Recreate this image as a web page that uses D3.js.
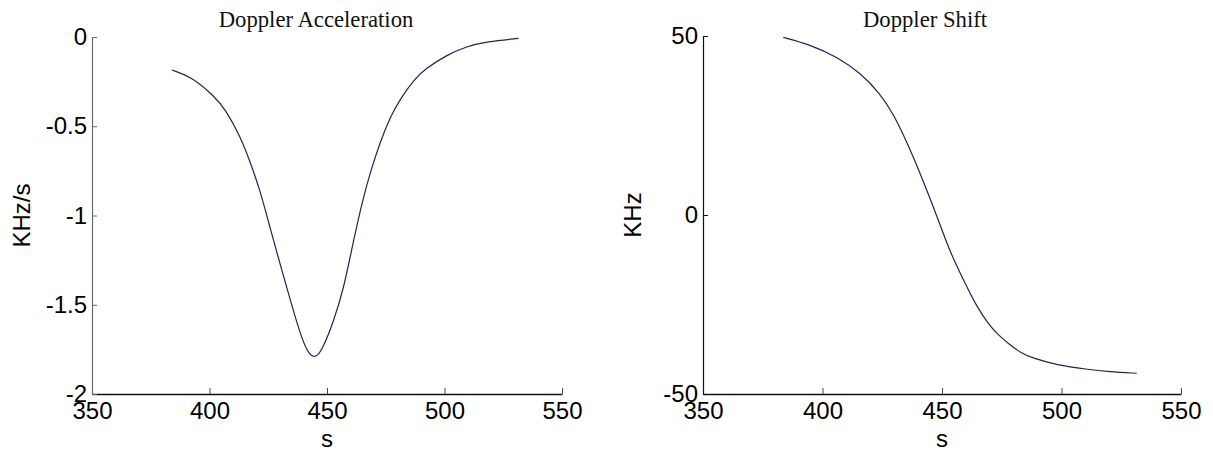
<!DOCTYPE html>
<html>
<head>
<meta charset="utf-8">
<script src="https://cdn.jsdelivr.net/npm/d3@7"></script>
<style>
  html, body { margin: 0; padding: 0; background: #fff; }
  svg { display: block; }
  .tick text { font-family: "Liberation Sans", Arial, sans-serif; font-size: 24px; fill: #000; }
  .title { font-family: "Liberation Serif", "Times New Roman", serif; font-size: 22.7px; fill: #111; }
  .axis-label { font-family: "Liberation Sans", Arial, sans-serif; font-size: 24px; fill: #000; }
</style>
</head>
<body>
<svg id="chart" width="1213" height="453"></svg>
<script>
// Time axis (seconds) shared by both plots
const xTicks = [350, 400, 450, 500, 550];

// Doppler acceleration (KHz/s) against time
const accelTime = [384, 392, 402, 407, 413, 417, 421.5, 426, 430, 434, 438.5, 441.5, 444, 446, 448,
  452.5, 457, 461, 465.5, 468.5, 472.5, 477, 481, 487, 492, 501, 509, 518, 531.5];
const accelValue = [-0.185, -0.22, -0.33, -0.41, -0.556, -0.689, -0.857, -1.08, -1.27, -1.455,
  -1.66, -1.76, -1.795, -1.785, -1.75, -1.605, -1.417, -1.156, -0.895, -0.755, -0.592, -0.446, -0.35,
  -0.24, -0.176, -0.101, -0.054, -0.026, -0.008];
const accelTicks = [0, -0.5, -1, -1.5, -2];

// Doppler shift (KHz) against time
const shiftTime = [383.6, 395, 406, 416, 424, 429.5, 435, 442, 448, 453, 459, 464.5, 469.5,
  473, 478.5, 483, 488, 498, 510.5, 520, 531.5];
const shiftValue = [49.6, 47.5, 44.2, 39.6, 34, 28.4, 20.9, 9.8, -0.5, -9.8, -18.2, -25.6, -30.5,
  -33.2, -36.3, -38.5, -40, -41.9, -43.1, -43.8, -44.2];
const shiftTicks = [50, 0, -50];

const svg = d3.select("#chart");

function drawPanel(cfg) {
  const x = d3.scaleLinear().domain([350, 550]).range([cfg.left, cfg.right]);
  const y = d3.scaleLinear().domain(cfg.yDomain).range([cfg.bottom, cfg.top]);
  const g = svg.append("g");

  const xAxis = d3.axisBottom(x).tickValues(xTicks).tickFormat(d => String(d))
    .tickSizeInner(-6).tickSizeOuter(0).tickPadding(8);
  const gx = g.append("g").attr("transform", `translate(0,${cfg.bottom})`).call(xAxis);
  gx.select(".domain").attr("stroke", "#111").attr("stroke-width", 1.3);
  gx.selectAll(".tick line").attr("stroke", "#444");

  const yAxis = d3.axisLeft(y).tickValues(cfg.yTicks).tickFormat(d => String(d))
    .tickSizeInner(-5).tickSizeOuter(0).tickPadding(5);
  const gy = g.append("g").attr("transform", `translate(${cfg.left},0)`).call(yAxis);
  gy.select(".domain").attr("stroke", cfg.yAxisColor).attr("stroke-width", 1.2);
  gy.selectAll(".tick line").attr("stroke", cfg.yAxisColor);

  const pts = cfg.t.map((t, i) => [t, cfg.v[i]]);
  const line = d3.line().x(d => x(d[0])).y(d => y(d[1])).curve(d3.curveBasis);
  g.append("path").datum(pts).attr("d", line)
    .attr("fill", "none").attr("stroke", "#23234f").attr("stroke-width", 1.2);

  g.append("text").attr("class", "title").attr("x", cfg.titleX).attr("y", 27)
    .attr("text-anchor", "middle").text(cfg.title);
  g.append("text").attr("class", "axis-label").attr("x", x(450)).attr("y", 447)
    .attr("text-anchor", "middle").text("s");
  g.append("text").attr("class", "axis-label")
    .attr("transform", `translate(${cfg.yLabelX},${(cfg.top + cfg.bottom) / 2}) rotate(-90)`)
    .attr("text-anchor", "middle").text(cfg.yLabel);
}

drawPanel({
  left: 92, right: 562, top: 37, bottom: 394,
  yDomain: [-2, 0], yTicks: accelTicks, yAxisColor: "#6a6a6a",
  t: accelTime, v: accelValue,
  title: "Doppler Acceleration", titleX: 316,
  yLabel: "KHz/s", yLabelX: 30
});

drawPanel({
  left: 703, right: 1181, top: 36, bottom: 394,
  yDomain: [-50, 50], yTicks: shiftTicks, yAxisColor: "#111",
  t: shiftTime, v: shiftValue,
  title: "Doppler Shift", titleX: 925,
  yLabel: "KHz", yLabelX: 641
});
</script>
</body>
</html>
